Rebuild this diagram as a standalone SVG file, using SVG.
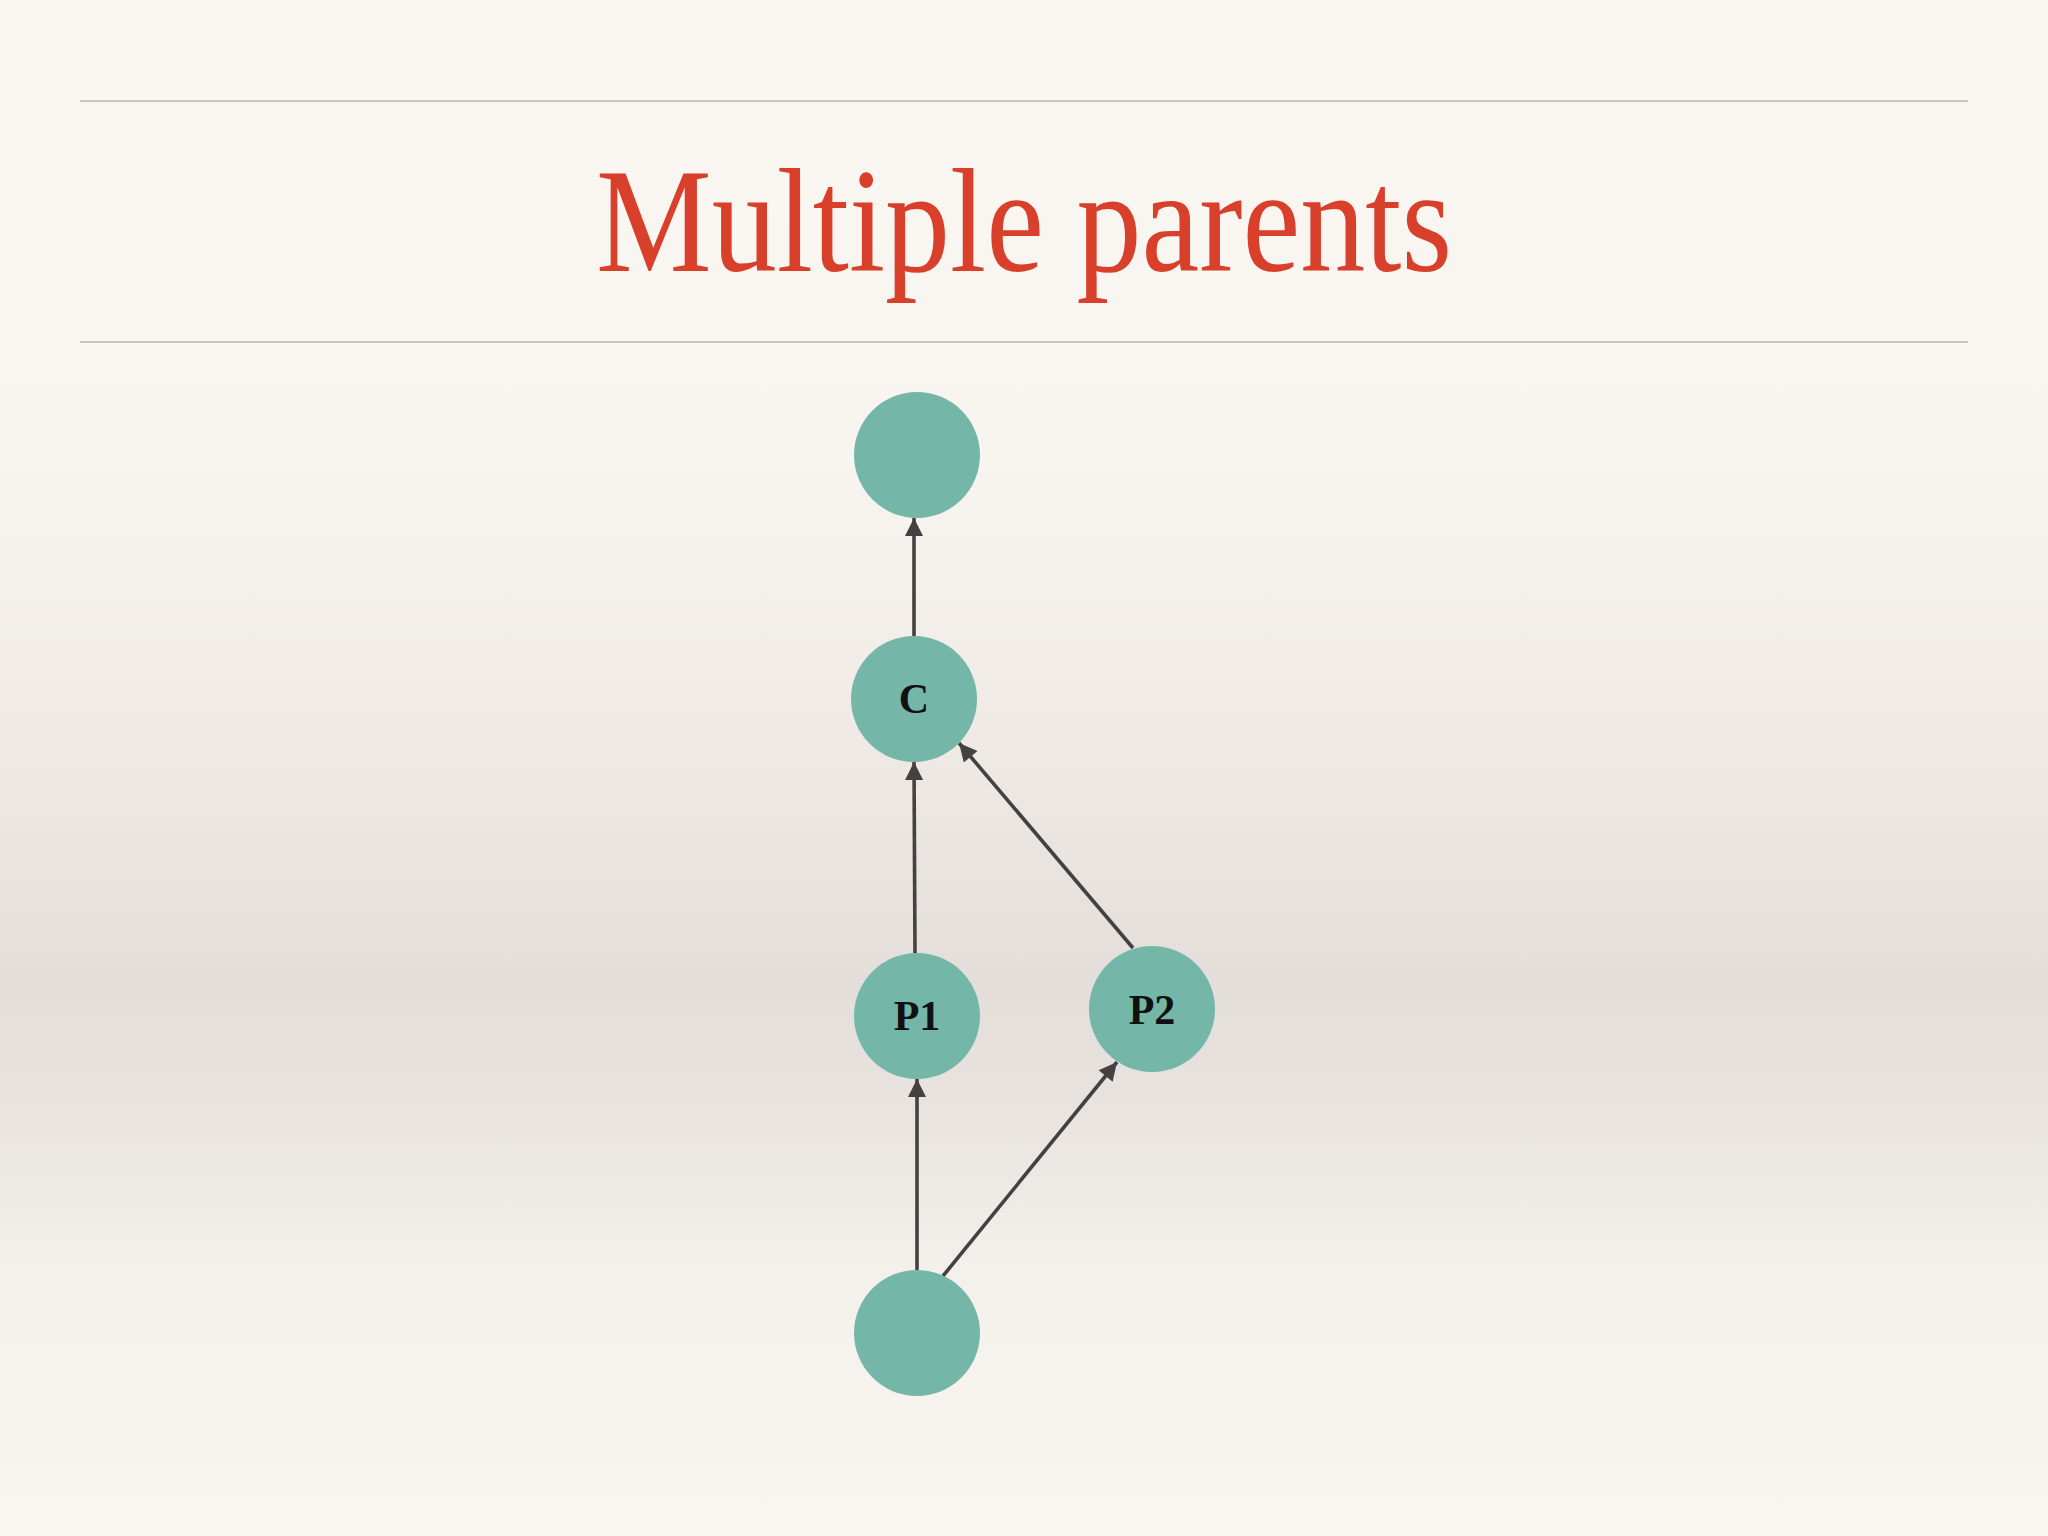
<svg xmlns="http://www.w3.org/2000/svg" width="2048" height="1536" viewBox="0 0 2048 1536">
<defs>
<linearGradient id="bg" x1="0" y1="0" x2="0" y2="1">
<stop offset="0" stop-color="#faf7f2"/>
<stop offset="0.3" stop-color="#f8f4ef"/>
<stop offset="0.46" stop-color="#f0ebe6"/>
<stop offset="0.56" stop-color="#e9e4df"/>
<stop offset="0.64" stop-color="#e3deda"/>
<stop offset="0.72" stop-color="#e8e3df"/>
<stop offset="0.83" stop-color="#f4f0eb"/>
<stop offset="1" stop-color="#f9f6f1"/>
</linearGradient>
<marker id="arr" viewBox="0 0 10 10" refX="10" refY="5" markerWidth="5.5" markerHeight="5" markerUnits="strokeWidth" orient="auto">
<path d="M0,0 L10,5 L0,10 Z" fill="#444240"/>
</marker>
</defs>
<style>
.rule{stroke:#c9c4be;stroke-width:2}
.title{font-size:148px;fill:#d9402b}
.node circle{fill:#74b6a8}
.lbl{font-weight:bold;font-size:42px;fill:#111;text-anchor:middle}
.edge{stroke:#444240;stroke-width:3.6;fill:none;marker-end:url(#arr)}
</style>
<rect width="2048" height="1536" fill="url(#bg)"/>
<line class="rule" x1="80" y1="101" x2="1968" y2="101"/>
<line class="rule" x1="80" y1="342" x2="1968" y2="342"/>
<text class="title" font-family="Liberation Serif, serif" x="596" y="271" textLength="856" lengthAdjust="spacingAndGlyphs">Multiple parents</text>
<g id="connectors">
<line class="edge" x1="914" y1="636" x2="914" y2="518"/>
<line class="edge" x1="915" y1="953" x2="914" y2="762"/>
<line class="edge" x1="1133" y1="948" x2="959" y2="743"/>
<line class="edge" x1="917" y1="1270" x2="917" y2="1079"/>
<line class="edge" x1="943" y1="1276" x2="1117" y2="1062"/>
</g>
<g id="node-top" class="node"><circle cx="917" cy="455" r="63"/></g>
<g id="node-c" class="node"><circle cx="914" cy="699" r="63"/><text class="lbl" font-family="Liberation Serif, serif" x="914" y="713">C</text></g>
<g id="node-p1" class="node"><circle cx="917" cy="1016" r="63"/><text class="lbl" font-family="Liberation Serif, serif" x="917" y="1030">P1</text></g>
<g id="node-p2" class="node"><circle cx="1152" cy="1009" r="63"/><text class="lbl" font-family="Liberation Serif, serif" x="1152" y="1024">P2</text></g>
<g id="node-bottom" class="node"><circle cx="917" cy="1333" r="63"/></g>
</svg>
